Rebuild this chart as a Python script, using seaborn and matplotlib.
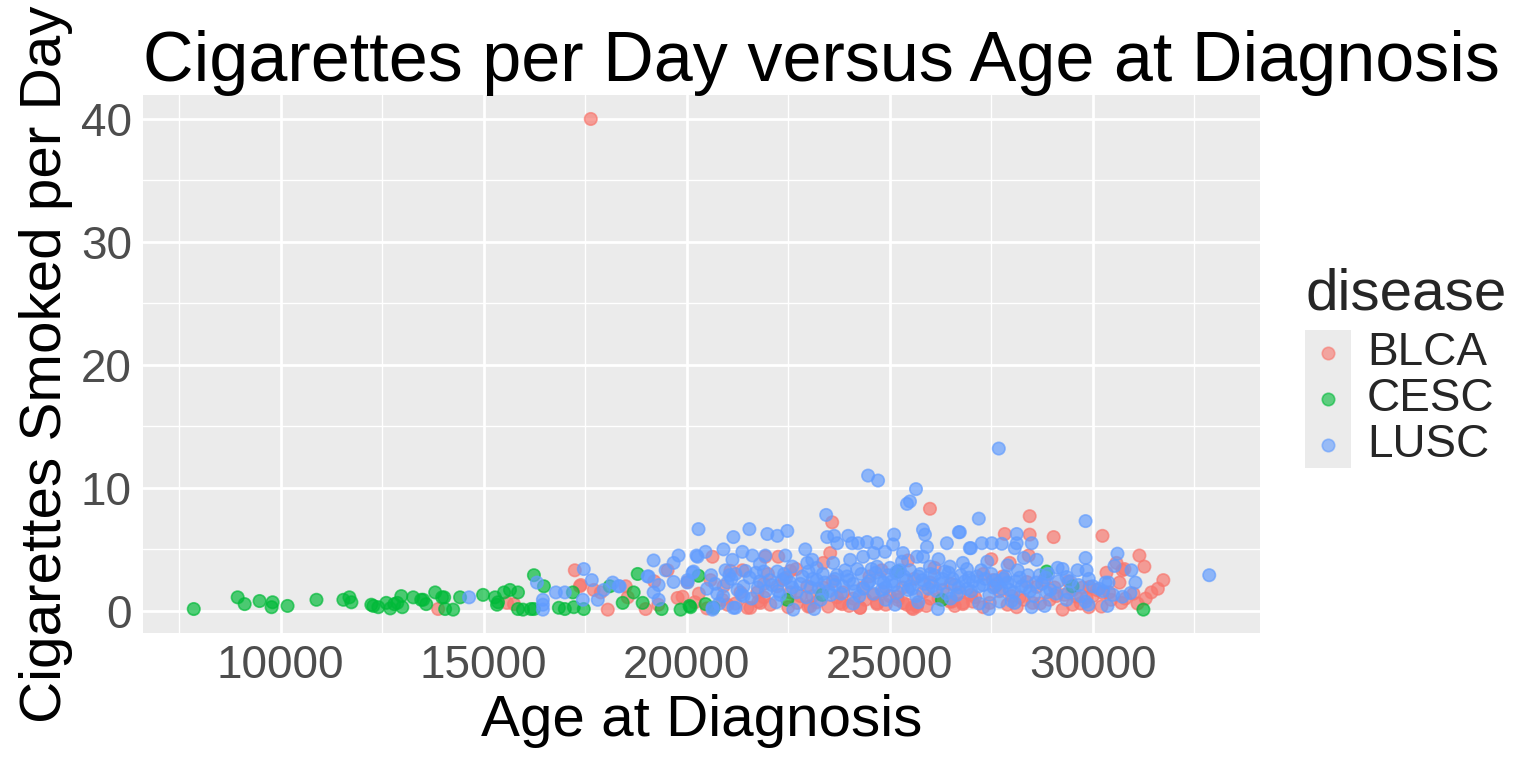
import matplotlib
matplotlib.use('Agg')
import pandas as pd
import matplotlib.pyplot as plt
import seaborn as sns
from matplotlib.ticker import MultipleLocator

# ---- data (age in days, cigarettes per day) ----
blca_age = [17638,
            17245, 17368, 17712, 17884, 18056, 18498, 18547, 18989, 19529, 19775, 19898, 20020,
            13880, 15575, 15747, 17393,
            20635, 21077, 21371, 21936, 22256, 22550, 22697, 23582, 23533, 23361, 25989, 25449,
            20880, 21003, 21494, 21764, 22059, 22722, 22992, 23484, 23778, 24269, 24687, 25326,
            25547, 25670, 26480, 26799,
            20586, 20905, 21322, 21740, 22231, 22550, 22968, 23361, 23852, 24343, 24834, 25326,
            25817, 26308, 26725,
            28444, 27831, 28444, 29034, 30237, 28420, 27954, 30335, 30778, 30581, 31146, 29918,
            30090, 30237, 30655, 30704,
            26529, 26799, 27045, 27462, 28125, 28518, 28936, 29255, 29599, 29844, 30212,
            28371, 28616, 29058, 29500, 29746, 27782, 27536,
            31735, 31440, 31268, 30729,
            21568, 21813, 23041, 23827, 24269, 24687, 25178, 25424, 25571, 25670,
            22400, 23100, 23600, 24100, 24500, 25000, 25600, 26000, 26500, 27000, 27300, 27700,
            28000, 28300, 28800, 29300, 29700, 30000, 30450, 31000, 31300, 31600, 24800, 26100,
            27500, 22000, 19200, 19300, 20300, 21900,
            21200, 21900, 22500, 23200, 23700, 24000, 24400, 24900, 25200, 25900, 26200, 26600,
            27100, 27300, 27900, 28200, 28700, 29100, 29500, 29900, 30400, 30800, 31100, 20200,
            20500, 22800, 24600, 26000, 27600, 29400]
blca_cig = [40.0,
            3.3, 2.0, 1.7, 1.5, 0.1, 2.0, 1.1, 0.15, 3.3, 1.05, 1.15, 2.35,
            0.15, 0.65, 0.55, 2.1,
            4.4, 3.25, 3.3, 4.4, 4.4, 3.25, 3.4, 7.2, 4.7, 3.9, 8.3, 4.1,
            0.9, 0.5, 0.25, 0.75, 0.5, 0.65, 0.35, 0.35, 0.65, 0.25, 0.65, 0.65,
            0.25, 0.35, 0.75, 0.65,
            2.5, 2.0, 1.5, 1.5, 2.0, 1.5, 2.0, 1.9, 1.5, 1.9, 1.55, 1.9,
            1.5, 1.7, 1.5,
            7.7, 6.25, 6.2, 6.0, 6.1, 4.5, 3.9, 3.1, 3.4, 3.9, 4.5, 1.95,
            1.7, 1.45, 2.3, 0.65,
            0.75, 0.55, 0.75, 0.65, 0.3, 0.65, 0.9, 0.1, 1.15, 1.05, 0.35,
            2.35, 1.95, 1.9, 1.7, 1.9, 2.8, 2.5,
            2.5, 1.5, 3.6, 3.3,
            0.25, 0.65, 0.35, 0.55, 0.25, 0.55, 1.15, 0.5, 0.15, 0.5,
            2.6, 1.2, 2.4, 1.0, 2.8, 1.2, 2.6, 1.0, 2.2, 1.3, 3.0, 1.6,
            1.2, 0.9, 2.5, 1.3, 0.6, 1.2, 0.9, 1.4, 1.0, 1.8, 3.3, 3.5,
            4.2, 3.0, 2.4, 0.5, 1.4, 2.2,
            0.6, 1.1, 0.3, 0.7, 1.1, 0.4, 0.9, 0.5, 0.9, 0.4, 1.0, 0.4,
            1.1, 0.3, 0.5, 1.1, 0.6, 1.2, 0.5, 0.3, 1.5, 1.0, 0.6, 0.7,
            0.2, 1.2, 1.3, 2.3, 2.0, 2.4]

cesc_age = [7863, 8944, 9116, 9484, 9804, 9779, 10172, 10884, 11547, 11695, 11744, 12235,
            12284, 12407, 12603, 12702, 12800, 12874, 12972, 12997, 13266, 13463, 13512, 13586,
            13807, 13979, 14028, 14052, 14249, 14420, 14986, 15280, 15330, 15354, 15502, 15649,
            15846, 15846, 15969, 16165, 16238, 16238, 16484, 16852, 16999, 17196, 17220, 17466,
            18105, 18424, 18694, 18793, 18915, 19382, 19849, 20070, 20290, 20094, 20463, 20660,
            22477, 23336, 25203, 26283, 28862, 29500, 31244]
cesc_cig = [0.15, 1.1, 0.55, 0.8, 0.7, 0.3, 0.4, 0.9, 0.9, 1.1, 0.7, 0.5,
            0.4, 0.3, 0.65, 0.2, 0.55, 0.65, 1.2, 0.3, 1.1, 0.9, 0.9, 0.55,
            1.5, 1.1, 1.1, 0.15, 0.1, 1.1, 1.3, 1.1, 0.5, 0.7, 1.5, 1.7,
            1.5, 0.15, 0.1, 0.15, 0.15, 2.9, 2.0, 0.25, 0.15, 1.5, 0.3, 0.15,
            2.0, 0.65, 1.5, 3.0, 0.65, 0.15, 0.1, 0.4, 2.85, 0.3, 0.55, 0.25,
            0.9, 1.3, 3.2, 0.9, 3.2, 2.0, 0.1]

lusc_age = [27684, 24466, 24711, 25645, 25497, 25423, 23434, 27192, 29820,
            20291, 21150, 21543, 21985, 22231, 22477,
            23459, 23631, 23705, 23975, 24073, 24220, 24441, 24687, 24883, 25080, 25105,
            25817, 25866, 25915, 25326, 25670, 25817, 26406, 26701, 26971,
            20266, 20463, 20905, 21371, 21126, 21617, 21936, 22428, 22919, 23091,
            20954, 21445, 22231, 22968, 23606, 24024, 24343, 24687, 25006, 25497, 25989, 26480, 26799,
            20635, 21199, 22624, 23140, 25129, 26185,
            26725, 26996, 27266, 27512, 27758, 28125, 28125, 28076, 28494, 28616, 29820, 30606,
            30532, 30950, 31048, 30384, 30311, 29623, 29844, 29132, 29255, 29353, 30729, 30925,
            29820, 29893, 30360, 32865, 27438, 28494, 28813, 28076, 27708, 29353, 28862, 28690, 28838,
            19062, 17663, 17466, 18179, 18326, 19308, 19677, 20143, 20020, 20635, 21150, 17810, 17442,
            14642, 16312, 16459, 16459, 16459, 16778, 16999,
            17958, 18351, 19038, 19185, 19185, 19308, 19480, 19677, 19799, 20168, 20241, 20020,
            20500, 20700, 20900, 21100, 21250, 21400, 21600, 21800, 21950, 22100, 22300, 22450,
            22600, 22800, 22950, 23100, 23250, 23400, 23550, 23700, 23850, 24000, 24150, 24300,
            24450, 24600, 24750, 24900, 25050, 25200, 25350, 25500, 25650, 25800, 25950, 26100,
            26250, 26400, 26550, 26700, 26850, 27000, 27150, 27300, 27450, 27600, 27750, 27900,
            28050, 28200, 28350, 28550, 28750, 28950, 29150, 29400, 29650, 29900, 30150, 30500,
            21050, 21700, 22350, 23000, 23650, 24250, 24550, 24850, 25150, 25450, 25750, 26050,
            26350, 26650, 26950, 27250, 27550, 27850, 28150, 28450, 23300, 24100, 24900, 25700,
            26500, 27200, 28000, 22200, 21400, 20800,
            23200, 23900, 24600, 25300, 26200, 26900, 27400, 27900, 28300, 22600, 21800,
            20600, 20750, 21000, 21200, 21350, 21550, 21750, 21900, 22050, 22250, 22400, 22550,
            22700, 22850, 23050, 23200, 23350, 23500, 23650, 23800, 23950, 24100, 24200, 24350,
            24500, 24650, 24800, 24950, 25100, 25250, 25400, 25550, 25700, 25850, 26000, 26150,
            26300, 26450, 26600, 26750, 26900, 27050, 27200, 27350, 27500, 27650, 27800, 27950,
            28100, 28250, 28400, 28600, 28900, 29100, 29450, 29700, 30000, 30250]
lusc_cig = [13.2, 11.0, 10.6, 9.9, 8.9, 8.7, 7.8, 7.5, 7.3,
            6.65, 6.0, 6.65, 6.25, 6.1, 6.5,
            6.0, 6.1, 5.5, 6.1, 5.5, 5.5, 5.6, 5.5, 4.8, 5.4, 6.2,
            6.6, 6.2, 5.2, 4.7, 4.4, 4.4, 5.5, 6.4, 5.1,
            4.4, 4.8, 5.0, 4.8, 4.15, 4.5, 4.5, 4.5, 5.0, 4.15,
            3.3, 3.25, 3.2, 3.9, 3.9, 4.15, 4.4, 3.6, 3.5, 3.3, 3.6, 3.6, 3.9,
            0.1, 0.25, 0.1, 0.15, 0.5, 0.15,
            6.4, 5.1, 5.5, 5.5, 5.45, 6.25, 5.5, 5.1, 5.5, 4.15, 4.3, 4.65,
            3.65, 3.3, 2.3, 2.3, 2.3, 3.3, 3.3, 3.5, 3.4, 2.75, 1.15, 1.45,
            0.75, 0.5, 0.4, 2.9, 0.15, 0.3, 0.4, 0.65, 0.75, 0.9, 1.5, 2.9, 2.7,
            2.8, 2.5, 3.4, 2.3, 2.0, 2.1, 2.35, 3.1, 2.5, 0.25, 0.25, 0.9, 0.9,
            1.1, 2.3, 0.9, 0.5, 0.1, 1.5, 1.5,
            1.7, 2.0, 2.8, 4.1, 1.5, 0.9, 3.3, 3.9, 4.5, 3.2, 4.5, 2.3,
            1.8, 2.2, 1.2, 2.6, 1.7, 2.0, 1.0, 2.4, 1.6, 2.1, 1.3, 2.7,
            1.9, 2.2, 1.1, 2.6, 1.8, 2.3, 1.3, 2.9, 2.0, 2.5, 1.6, 3.0,
            2.2, 1.4, 2.6, 1.9, 2.4, 1.5, 2.8, 2.0, 1.2, 2.5, 1.8, 2.9,
            2.2, 1.4, 2.6, 1.9, 2.4, 1.6, 2.8, 2.1, 1.3, 2.5, 1.8, 2.3,
            1.5, 2.7, 1.9, 1.2, 2.2, 1.7, 2.4, 1.5, 2.1, 2.6, 1.8, 1.3,
            2.9, 3.1, 2.5, 3.2, 2.1, 1.2, 3.4, 2.3, 3.1, 1.7, 3.0, 2.0,
            3.2, 1.3, 2.7, 3.3, 1.9, 2.8, 3.3, 1.6, 0.9, 0.6, 0.9, 0.7,
            1.0, 0.6, 0.8, 0.7, 1.2, 0.6,
            3.5, 3.3, 4.7, 4.0, 4.2, 3.4, 4.0, 3.7, 4.3, 3.6, 3.8,
            2.9, 1.4, 2.3, 3.0, 1.3, 2.7, 1.9, 3.2, 2.5, 1.6, 3.0, 2.3,
            1.5, 2.8, 1.9, 2.5, 3.0, 1.6, 2.6, 1.4, 2.8, 2.2, 3.4, 1.8,
            2.4, 3.1, 1.7, 2.9, 2.1, 3.3, 2.5, 1.8, 2.8, 2.2, 3.0, 1.6,
            2.6, 3.1, 2.1, 2.9, 1.8, 2.4, 2.0, 2.6, 3.0, 2.2, 2.6, 1.7,
            2.4, 2.0, 2.9, 2.3, 3.0, 1.4, 2.4, 1.2, 2.0, 1.6]

diseases = ['BLCA', 'CESC', 'LUSC']
colors = ['#F8766D', '#00BA38', '#619CFF']

df = pd.concat([
    pd.DataFrame({'age': blca_age, 'cigs': blca_cig, 'disease': 'BLCA'}),
    pd.DataFrame({'age': cesc_age, 'cigs': cesc_cig, 'disease': 'CESC'}),
    pd.DataFrame({'age': lusc_age, 'cigs': lusc_cig, 'disease': 'LUSC'}),
], ignore_index=True)

sns.set_theme(style='darkgrid')
plt.rcParams['font.family'] = ['Liberation Sans', 'DejaVu Sans']

W, H = 1536, 768
fig = plt.figure(figsize=(W / 100, H / 100), dpi=100)
fig.patch.set_facecolor('white')
ax = fig.add_axes([143 / W, 1 - 633 / H, (1260 - 143) / W, (633 - 95) / H])

sns.scatterplot(data=df, x='age', y='cigs', hue='disease', hue_order=diseases,
                palette=dict(zip(diseases, colors)), s=80, alpha=0.68,
                linewidth=1.2, edgecolor='face', legend=False, ax=ax)

# ggplot-like panel
ax.set_facecolor('#EBEBEB')
for sp in ax.spines.values():
    sp.set_visible(False)
ax.set_xlim(6613, 34115)
ax.set_ylim(-1.8, 41.95)
ax.xaxis.set_major_locator(MultipleLocator(5000))
ax.xaxis.set_minor_locator(MultipleLocator(2500))
ax.yaxis.set_major_locator(MultipleLocator(10))
ax.yaxis.set_minor_locator(MultipleLocator(5))
ax.grid(which='major', color='white', linewidth=2.0)
ax.grid(which='minor', color='white', linewidth=1.0)
ax.set_axisbelow(True)
ax.tick_params(which='major', length=4, width=1.1, color='#333333',
               labelcolor='#4D4D4D', labelsize=33, pad=4)
ax.tick_params(which='minor', length=0)

ax.set_xlabel('Age at Diagnosis', fontsize=42, color='black', labelpad=4)
ax.set_ylabel('Cigarettes Smoked per Day', fontsize=42, color='black', labelpad=6)
ax.set_title('Cigarettes per Day versus Age at Diagnosis', fontsize=50.5,
             loc='left', color='black', pad=10)

# legend drawn by hand to mimic ggplot's key boxes
lax = fig.add_axes([1305 / W, 1 - 468 / H, 46 / W, 138 / H])
lax.set_facecolor('#EBEBEB')
lax.set_xlim(0, 1)
lax.set_ylim(0, 3)
lax.set_xticks([])
lax.set_yticks([])
lax.grid(False)
for sp in lax.spines.values():
    sp.set_visible(False)
for i, (name, col) in enumerate(zip(diseases, colors)):
    yk = 2.5 - i
    lax.scatter([0.5], [yk], s=80, color=col, alpha=0.6, linewidth=1.2, edgecolor='face')
    fig.text(1367 / W, 1 - (353 + 46 * i) / H, name, fontsize=33, va='center', ha='left')
fig.text(1305 / W, 1 - 310 / H, 'disease', fontsize=42, va='baseline', ha='left')

fig.savefig('out.png', dpi=100)
